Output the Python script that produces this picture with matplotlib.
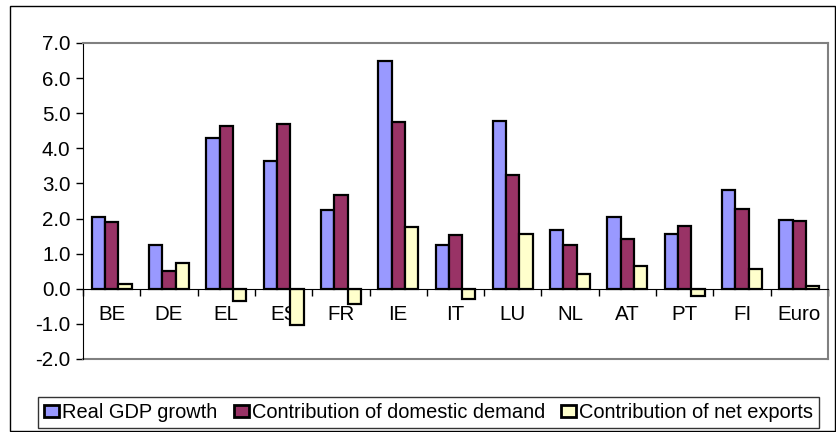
import numpy as np
import matplotlib
matplotlib.use("Agg")
import matplotlib.pyplot as plt
from matplotlib.patches import Rectangle

plt.rcParams['font.family'] = ['Liberation Sans', 'DejaVu Sans']

# data (% growth / contributions)
countries = ['BE', 'DE', 'EL', 'ES', 'FR', 'IE', 'IT', 'LU', 'NL', 'AT', 'PT', 'FI', 'Euro']
gdp_growth = [2.04, 1.24, 4.30, 3.65, 2.24, 6.50, 1.24, 4.79, 1.66, 2.05, 1.57, 2.82, 1.97]
domestic_demand = [1.91, 0.52, 4.64, 4.70, 2.66, 4.74, 1.53, 3.23, 1.24, 1.41, 1.79, 2.26, 1.92]
net_exports = [0.14, 0.73, -0.36, -1.04, -0.42, 1.76, -0.28, 1.57, 0.42, 0.66, -0.20, 0.57, 0.07]
series_names = ['Real GDP growth', 'Contribution of domestic demand', 'Contribution of net exports']
yticks = [-2.0, -1.0, 0.0, 1.0, 2.0, 3.0, 4.0, 5.0, 6.0, 7.0]

colors = ['#9999FF', '#993366', '#FFFFCC']
W, H = 836, 432
FS = 14.8

fig = plt.figure(figsize=(W / 100, H / 100), dpi=100)
# outer chart frame
fig.patches.append(Rectangle((10 / W, 1 / H), 825 / W, 425 / H, transform=fig.transFigure,
                             fill=False, edgecolor='black', linewidth=1.0))

ax = fig.add_axes([83 / W, 1 - 359 / H, (828 - 83) / W, (359 - 43) / H])

x = np.arange(len(countries))
bw = 0.232
for i, (vals, c, name) in enumerate(zip([gdp_growth, domestic_demand, net_exports], colors, series_names)):
    ax.bar(x + (i - 1) * bw, vals, width=bw, color=c, edgecolor='black', linewidth=1.6,
           label=name, zorder=3)

ax.set_xlim(-0.5, len(countries) - 0.5)
ax.set_ylim(-2, 7)
ax.set_yticks(yticks)
ax.set_yticklabels([f'{v:.1f}' for v in yticks], fontsize=FS)
ax.tick_params(axis='y', direction='out', length=5, width=1, pad=4)

# category axis sits on the zero line
ax.spines['bottom'].set_position(('data', 0))
ax.spines['bottom'].set_color('black')
ax.spines['bottom'].set_zorder(4)
ax.spines['left'].set_color('black')
for s in ['top', 'right']:
    ax.spines[s].set_color('#808080')
    ax.spines[s].set_linewidth(1.5)
ax.axhline(-2, color='#808080', linewidth=1.5, clip_on=False)

ax.set_xticks(x)
ax.set_xticklabels(countries, fontsize=FS)
ax.tick_params(axis='x', which='major', length=0, pad=12)
ax.set_xticks(np.arange(len(countries) + 1) - 0.5, minor=True)
ax.tick_params(axis='x', which='minor', direction='out', length=5, width=1)

leg = fig.legend(loc='center', bbox_to_anchor=(428.5 / W, 1 - 412.5 / H), ncol=3, fontsize=14.4,
                 frameon=True, fancybox=False, edgecolor='black', handlelength=0.75,
                 handleheight=0.6, handletextpad=0.15, columnspacing=0.8,
                 borderpad=0.3, borderaxespad=0)
leg.get_frame().set_linewidth(1.0)
for h in leg.legend_handles:
    h.set_linewidth(2.0)

fig.savefig('out.png', dpi=100)
